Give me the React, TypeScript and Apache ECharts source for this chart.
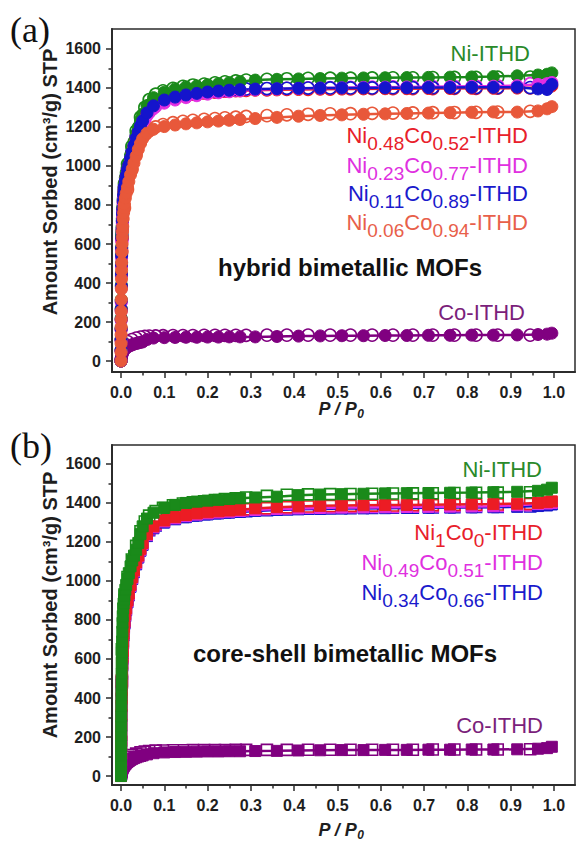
import { useEffect, useRef } from "react";
import * as echarts from "echarts";

// ---------- data ----------
// adsorption relative pressures (shared grid)
const adsP = [
  0, 0.0001, 0.0002, 0.0003, 0.0004, 0.0005, 0.0006, 0.0008, 0.001, 0.0012, 0.0014, 0.0016,
  0.002, 0.0025, 0.003, 0.0035, 0.004,
  0.005, 0.006, 0.007, 0.008, 0.01,
  0.012, 0.015, 0.018, 0.022, 0.026,
  0.03, 0.035, 0.04, 0.045, 0.05,
  0.06, 0.075, 0.1, 0.125, 0.15,
  0.175, 0.2, 0.225, 0.25, 0.275,
  0.31, 0.36, 0.41, 0.46, 0.51,
  0.56, 0.61, 0.66, 0.71, 0.76,
  0.81, 0.86, 0.915, 0.963, 0.984,
  0.995,
];
// desorption relative pressures (shared grid)
const desP = [
  0.945, 0.87, 0.82, 0.77, 0.72, 0.674, 0.628, 0.58, 0.53, 0.483,
  0.432, 0.383, 0.337, 0.289, 0.265, 0.24, 0.217, 0.192, 0.166, 0.143,
  0.12, 0.097, 0.08, 0.065, 0.055, 0.045, 0.035, 0.025, 0.015, 0.008,
  0.002,
];

const xTicks = [0, 0.1, 0.2, 0.3, 0.4, 0.5, 0.6, 0.7, 0.8, 0.9, 1.0];
const xMinorTicks = [0.05, 0.15, 0.25, 0.35, 0.45, 0.55, 0.65, 0.75, 0.85, 0.95];
const yTicks = [0, 200, 400, 600, 800, 1000, 1200, 1400, 1600];
const yMinorTicks = [100, 300, 500, 700, 900, 1100, 1300, 1500];

// (a) hybrid bimetallic MOFs
const hybNiAds = [
  0, 56, 112, 168, 220, 270, 315, 390, 450, 500, 545, 585,
  640, 690, 730, 765, 790,
  830, 860, 885, 905, 940,
  965, 995, 1020, 1055, 1090,
  1125, 1165, 1200, 1235, 1265,
  1310, 1350, 1378, 1395, 1405,
  1410, 1416, 1422, 1427, 1432,
  1440, 1444, 1446, 1448, 1450,
  1451, 1452, 1453, 1454, 1455,
  1456, 1458, 1462, 1466, 1470,
  1477,
];
const hybNiDes = [
  1456, 1455, 1454, 1454, 1453, 1452, 1452, 1451, 1450, 1450,
  1449, 1447, 1444, 1440, 1436, 1431, 1426, 1420, 1415, 1408,
  1398, 1385, 1368, 1340, 1300, 1250, 1180, 1100, 1010, 910,
  660,
];
const hybRedAds = [
  0, 54, 108, 162, 212, 262, 306, 380, 440, 490, 535, 575,
  625, 675, 715, 750, 775,
  815, 845, 870, 890, 920,
  945, 975, 1000, 1035, 1067,
  1100, 1137, 1170, 1200, 1227,
  1267, 1303, 1333, 1348, 1358,
  1366, 1373, 1378, 1382, 1385,
  1388, 1390, 1392, 1393, 1394,
  1395, 1396, 1396, 1397, 1397,
  1398, 1398, 1399, 1402, 1405,
  1410,
];
const hybRedDes = [
  1400, 1399, 1398, 1398, 1397, 1397, 1396, 1396, 1395, 1394,
  1393, 1392, 1390, 1388, 1386, 1383, 1379, 1374, 1368, 1360,
  1351, 1340, 1316, 1285, 1250, 1210, 1145, 1065, 985, 890,
  630,
];
const hybMagAds = [
  0, 52, 105, 158, 208, 256, 300, 372, 432, 482, 527, 567,
  615, 665, 705, 740, 765,
  805, 835, 860, 880, 910,
  935, 965, 990, 1025, 1057,
  1090, 1127, 1160, 1190, 1217,
  1257, 1293, 1322, 1338, 1350,
  1360, 1368, 1375, 1380, 1385,
  1390, 1394, 1397, 1399, 1401,
  1403, 1404, 1405, 1406, 1407,
  1408, 1409, 1412, 1418, 1422,
  1428,
];
const hybMagDes = [
  1422, 1410, 1409, 1408, 1407, 1406, 1405, 1404, 1403, 1402,
  1400, 1398, 1395, 1392, 1389, 1386, 1382, 1377, 1371, 1363,
  1354, 1330, 1306, 1275, 1240, 1200, 1135, 1055, 975, 880,
  620,
];
const hybBlueAds = [
  0, 55, 110, 165, 215, 265, 310, 385, 445, 495, 540, 580,
  630, 680, 720, 755, 780,
  820, 850, 875, 895, 925,
  950, 980, 1005, 1040, 1072,
  1105, 1142, 1175, 1205, 1232,
  1272, 1308, 1338, 1353, 1364,
  1372, 1379, 1384, 1388, 1391,
  1394, 1396, 1398, 1399, 1400,
  1400, 1401, 1401, 1402, 1402,
  1403, 1403, 1404, 1395, 1392,
  1418,
];
const hybBlueDes = [
  1402, 1402, 1402, 1402, 1401, 1401, 1401, 1400, 1400, 1400,
  1399, 1398, 1397, 1395, 1393, 1390, 1386, 1382, 1376, 1369,
  1360, 1345, 1320, 1290, 1255, 1215, 1150, 1070, 990, 895,
  640,
];
const hybCoralAds = [
  0, 45, 90, 135, 175, 215, 255, 315, 370, 420, 465, 505,
  560, 600, 635, 665, 690,
  730, 760, 785, 805, 835,
  860, 890, 920, 955, 985,
  1015, 1050, 1085, 1115, 1140,
  1168, 1188, 1202, 1210, 1216,
  1221, 1226, 1230, 1234, 1238,
  1243, 1249, 1255, 1259, 1262,
  1265, 1267, 1269, 1271, 1273,
  1275, 1277, 1276, 1282, 1293,
  1304,
];
const hybCoralDes = [
  1280, 1276, 1275, 1274, 1273, 1272, 1271, 1270, 1268, 1267,
  1265, 1262, 1258, 1254, 1250, 1247, 1243, 1239, 1234, 1229,
  1222, 1212, 1200, 1180, 1160, 1125, 1060, 980, 880, 785,
  560,
];
const hybCoAds = [
  0, 2, 5, 7, 9, 12, 14, 17, 20, 22, 25, 27,
  33, 37, 40, 43, 46,
  50, 54, 57, 60, 64,
  68, 72, 76, 80, 84,
  87, 90, 93, 96, 98,
  110, 118, 120, 121, 122,
  122, 123, 123, 124, 124,
  124, 126, 128, 129, 130,
  130, 131, 131, 132, 132,
  133, 133, 134, 136, 138,
  143,
];
const hybCoDes = [
  133, 133, 133, 133, 133, 133, 133, 133, 133, 133,
  133, 133, 133, 132, 132, 132, 132, 132, 131, 131,
  131, 130, 129, 128, 126, 123, 118, 110, 100, 88,
  60,
];

// (b) core-shell bimetallic MOFs
const csNiAds = [
  0, 52, 104, 156, 206, 256, 306, 360, 415, 470, 525, 580,
  635, 690, 740, 785, 820,
  860, 885, 905, 925, 955,
  980, 1010, 1040, 1075, 1105,
  1130, 1160, 1195, 1240, 1280,
  1320, 1350, 1375, 1390, 1400,
  1407, 1412, 1416, 1420, 1424,
  1428, 1432, 1440, 1443, 1445,
  1447, 1449, 1450, 1451, 1452,
  1453, 1455, 1457, 1462, 1468,
  1478,
];
const csNiDes = [
  1455, 1453, 1452, 1451, 1450, 1449, 1448, 1447, 1446, 1445,
  1444, 1442, 1436, 1428, 1424, 1420, 1415, 1409, 1403, 1397,
  1388, 1375, 1358, 1335, 1305, 1255, 1180, 1110, 1020, 930,
  650,
];
const csRedAds = [
  0, 40, 80, 115, 150, 180, 210, 265, 315, 360, 400, 440,
  480, 530, 575, 610, 640,
  690, 730, 765, 790, 830,
  860, 900, 935, 980, 1020,
  1055, 1095, 1130, 1165, 1195,
  1240, 1280, 1310, 1327, 1338,
  1346, 1352, 1357, 1361, 1365,
  1372, 1378, 1382, 1385, 1387,
  1388, 1389, 1390, 1391, 1392,
  1393, 1394, 1396, 1400, 1404,
  1408,
];
const csRedDes = [
  1395, 1392, 1391, 1390, 1389, 1388, 1387, 1386, 1385, 1384,
  1382, 1378, 1373, 1368, 1364, 1360, 1355, 1350, 1343, 1335,
  1326, 1312, 1296, 1270, 1245, 1200, 1130, 1040, 920, 800,
  490,
];
const csMagAds = [
  0, 40, 78, 113, 148, 178, 208, 262, 312, 357, 397, 436,
  475, 525, 570, 605, 635,
  685, 725, 760, 785, 825,
  855, 895, 930, 975, 1015,
  1050, 1090, 1125, 1160, 1190,
  1235, 1275, 1305, 1321, 1332,
  1340, 1346, 1351, 1355, 1359,
  1364, 1369, 1372, 1374, 1376,
  1377, 1378, 1379, 1380, 1381,
  1382, 1383, 1388, 1394, 1397,
  1400,
];
const csMagDes = [
  1388, 1385, 1384, 1383, 1382, 1381, 1380, 1379, 1378, 1377,
  1375, 1372, 1368, 1363, 1360, 1356, 1352, 1347, 1341, 1333,
  1324, 1306, 1290, 1265, 1240, 1195, 1125, 1035, 915, 795,
  485,
];
const csBlueAds = [
  0, 39, 77, 112, 146, 176, 206, 260, 310, 355, 395, 433,
  470, 520, 565, 600, 630,
  680, 720, 755, 780, 820,
  850, 890, 925, 970, 1010,
  1045, 1085, 1120, 1155, 1185,
  1230, 1270, 1300, 1316, 1327,
  1335, 1341, 1346, 1350, 1354,
  1359, 1364, 1367, 1369, 1371,
  1372, 1373, 1374, 1375, 1376,
  1377, 1378, 1380, 1384, 1387,
  1392,
];
const csBlueDes = [
  1382, 1380, 1379, 1378, 1377, 1376, 1375, 1374, 1373, 1372,
  1370, 1367, 1363, 1358, 1355, 1351, 1347, 1342, 1336, 1328,
  1319, 1301, 1285, 1260, 1235, 1190, 1120, 1030, 910, 790,
  480,
];
const csCoAds = [
  0, 2, 4, 6, 8, 10, 12, 15, 18, 20, 22, 25,
  29, 33, 36, 39, 42,
  46, 50, 53, 56, 61,
  66, 72, 77, 83, 88,
  92, 96, 100, 103, 106,
  111, 117, 121, 123, 124,
  125, 126, 126, 127, 127,
  128, 129, 131, 132, 133,
  133, 134, 134, 135, 135,
  136, 136, 137, 140, 143,
  150,
];
const csCoDes = [
  137, 136, 136, 136, 136, 135, 135, 135, 135, 135,
  135, 134, 134, 134, 134, 133, 133, 133, 133, 132,
  132, 131, 130, 128, 125, 121, 115, 108, 98, 85,
  55,
];

// ---------- styling ----------
const FONT = '"Liberation Sans", Arial, sans-serif';
const AXIS = "#2b2b2b";
const C_GREEN = "#1a8a1a";
const C_RED = "#ec1c24";
const C_MAG = "#e22ee2";
const C_BLUE = "#1414cc";
const C_CORAL = "#e8583a";
const C_PURPLE = "#800080";

const X_MIN = -0.0208;
const X_MAX = 1.0485;

function pairs(xs: number[], ys: number[]) {
  return xs.map((x, i) => [x, ys[i]]);
}

function isoSeries(gi: number, color: string, symbol: string, size: number, ads: number[], des: number[]) {
  return [
    {
      type: "line",
      xAxisIndex: gi * 2,
      yAxisIndex: gi * 2,
      data: pairs(adsP, ads),
      symbol,
      symbolSize: size,
      showSymbol: true,
      showAllSymbol: true,
      silent: true,
      lineStyle: { color, width: 2.5 },
      itemStyle: { color, borderColor: color, borderWidth: 1 },
    },
    {
      type: "scatter",
      xAxisIndex: gi * 2,
      yAxisIndex: gi * 2,
      data: pairs(desP, des),
      symbol,
      symbolSize: size,
      silent: true,
      itemStyle: { color: "#ffffff", borderColor: color, borderWidth: 1.6, opacity: 1 },
    },
  ];
}

const tickLabel = { fontFamily: FONT, fontWeight: "bold" as const, fontSize: 16, color: "#1e1e1e" };

function xAxes(gi: number) {
  return [
    {
      type: "value",
      gridIndex: gi,
      position: "bottom",
      min: X_MIN,
      max: X_MAX,
      axisLine: { show: true, onZero: false, lineStyle: { color: AXIS, width: 2 } },
      axisTick: { show: true, customValues: xTicks, length: 6, lineStyle: { color: AXIS, width: 1.5 } },
      axisLabel: { customValues: xTicks, margin: 12, formatter: (v: number) => v.toFixed(1), ...tickLabel },
      splitLine: { show: false },
    },
    {
      type: "value",
      gridIndex: gi,
      position: "bottom",
      min: X_MIN,
      max: X_MAX,
      axisLine: { show: false, onZero: false },
      axisTick: { show: true, customValues: xMinorTicks, length: 3.5, lineStyle: { color: AXIS, width: 1.5 } },
      axisLabel: { show: false },
      splitLine: { show: false },
    },
  ];
}

function yAxes(gi: number, min: number, max: number) {
  return [
    {
      type: "value",
      gridIndex: gi,
      position: "left",
      min,
      max,
      axisLine: { show: true, onZero: false, lineStyle: { color: AXIS, width: 2 } },
      axisTick: { show: true, customValues: yTicks, length: 6, lineStyle: { color: AXIS, width: 1.5 } },
      axisLabel: { customValues: yTicks, margin: 11, formatter: (v: number) => String(Math.round(v)), ...tickLabel },
      splitLine: { show: false },
    },
    {
      type: "value",
      gridIndex: gi,
      position: "left",
      min,
      max,
      axisLine: { show: false, onZero: false },
      axisTick: { show: true, customValues: yMinorTicks, length: 3.5, lineStyle: { color: AXIS, width: 1.5 } },
      axisLabel: { show: false },
      splitLine: { show: false },
    },
  ];
}

function plain(x: number, y: number, text: string, color: string, font: string, align = "right") {
  return { type: "text", x, y, silent: true, style: { text, fill: color, font, align, verticalAlign: "middle" } };
}

function formula(x: number, y: number, parts: [string, boolean][], color: string) {
  return {
    type: "text",
    x,
    y,
    silent: true,
    style: {
      text: parts.map(([t, sub]) => `{${sub ? "s" : "m"}|${t}}`).join(""),
      fill: color,
      align: "right",
      verticalAlign: "middle",
      rich: {
        m: { font: `22px ${FONT}`, fill: color },
        s: { font: `19px ${FONT}`, fill: color, padding: [17, 0, 0, 0] },
      },
    },
  };
}

function xName(y: number) {
  return {
    type: "text",
    x: 341,
    y,
    silent: true,
    style: {
      text: "{m|P / P}{s|0}",
      fill: "#1e1e1e",
      align: "center",
      verticalAlign: "middle",
      rich: {
        m: { font: `italic bold 18px ${FONT}`, fill: "#1e1e1e" },
        s: { font: `italic bold 12px ${FONT}`, fill: "#1e1e1e", padding: [10, 0, 0, 0] },
      },
    },
  };
}

function yName(y: number) {
  return {
    type: "text",
    x: 50,
    y,
    rotation: Math.PI / 2,
    silent: true,
    style: {
      text: "Amount Sorbed (cm³/g) STP",
      fill: "#1e1e1e",
      font: `bold 20px ${FONT}`,
      align: "center",
      verticalAlign: "middle",
    },
  };
}

const LABEL_FONT = `22px ${FONT}`;
const TITLE_FONT = `bold 24px ${FONT}`;
const PANEL_FONT = `36px "Liberation Serif", "Times New Roman", serif`;

const option = {
  animation: false,
  backgroundColor: "#ffffff",
  grid: [
    { left: 112, top: 29, width: 463, height: 343, show: true, borderColor: AXIS, borderWidth: 1.5, containLabel: false },
    { left: 112, top: 445, width: 463, height: 340, show: true, borderColor: AXIS, borderWidth: 1.5, containLabel: false },
  ],
  xAxis: [...xAxes(0), ...xAxes(1)],
  yAxis: [...yAxes(0, -56, 1702), ...yAxes(1, -46, 1697)],
  series: [
    ...isoSeries(0, C_PURPLE, "circle", 12, hybCoAds, hybCoDes),
    ...isoSeries(0, C_GREEN, "circle", 12, hybNiAds, hybNiDes),
    ...isoSeries(0, C_RED, "circle", 12, hybRedAds, hybRedDes),
    ...isoSeries(0, C_MAG, "circle", 12, hybMagAds, hybMagDes),
    ...isoSeries(0, C_BLUE, "circle", 12, hybBlueAds, hybBlueDes),
    ...isoSeries(0, C_CORAL, "circle", 12, hybCoralAds, hybCoralDes),
    ...isoSeries(1, C_PURPLE, "rect", 11, csCoAds, csCoDes),
    ...isoSeries(1, C_BLUE, "rect", 11, csBlueAds, csBlueDes),
    ...isoSeries(1, C_MAG, "rect", 11, csMagAds, csMagDes),
    ...isoSeries(1, C_RED, "rect", 11, csRedAds, csRedDes),
    ...isoSeries(1, C_GREEN, "rect", 11, csNiAds, csNiDes),
  ],
  graphic: [
    plain(10, 30, "(a)", "#111", PANEL_FONT, "left"),
    plain(10, 446, "(b)", "#111", PANEL_FONT, "left"),
    yName(182),
    yName(605),
    xName(409),
    xName(830),
    // panel (a)
    plain(530, 53, "Ni-ITHD", "#2a8a2a", LABEL_FONT),
    formula(528, 135, [["Ni", false], ["0.48", true], ["Co", false], ["0.52", true], ["-ITHD", false]], "#e8202a"),
    formula(528, 165, [["Ni", false], ["0.23", true], ["Co", false], ["0.77", true], ["-ITHD", false]], "#e030e0"),
    formula(528, 193, [["Ni", false], ["0.11", true], ["Co", false], ["0.89", true], ["-ITHD", false]], "#1a1acc"),
    formula(528, 222, [["Ni", false], ["0.06", true], ["Co", false], ["0.94", true], ["-ITHD", false]], "#e8604a"),
    plain(218, 267, "hybrid bimetallic MOFs", "#111", TITLE_FONT, "left"),
    plain(525, 312, "Co-ITHD", "#7b1f7b", LABEL_FONT),
    // panel (b)
    plain(542, 469, "Ni-ITHD", "#2a8a2a", LABEL_FONT),
    formula(543, 532, [["Ni", false], ["1", true], ["Co", false], ["0", true], ["-ITHD", false]], "#e8202a"),
    formula(543, 562, [["Ni", false], ["0.49", true], ["Co", false], ["0.51", true], ["-ITHD", false]], "#e030e0"),
    formula(543, 592, [["Ni", false], ["0.34", true], ["Co", false], ["0.66", true], ["-ITHD", false]], "#1a1acc"),
    plain(193, 653, "core-shell bimetallic MOFs", "#111", TITLE_FONT, "left"),
    plain(543, 725, "Co-ITHD", "#7b1f7b", LABEL_FONT),
  ],
};

export default function App() {
  const ref = useRef<HTMLDivElement>(null);
  useEffect(() => {
    if (!ref.current) return;
    const chart = echarts.init(ref.current, null, { renderer: "svg" });
    chart.setOption(option as any);
    return () => chart.dispose();
  }, []);
  return (
    <div
      ref={ref}
      style={{ position: "absolute", left: 0, top: 0, width: 577, height: 846, background: "#ffffff" }}
    />
  );
}
